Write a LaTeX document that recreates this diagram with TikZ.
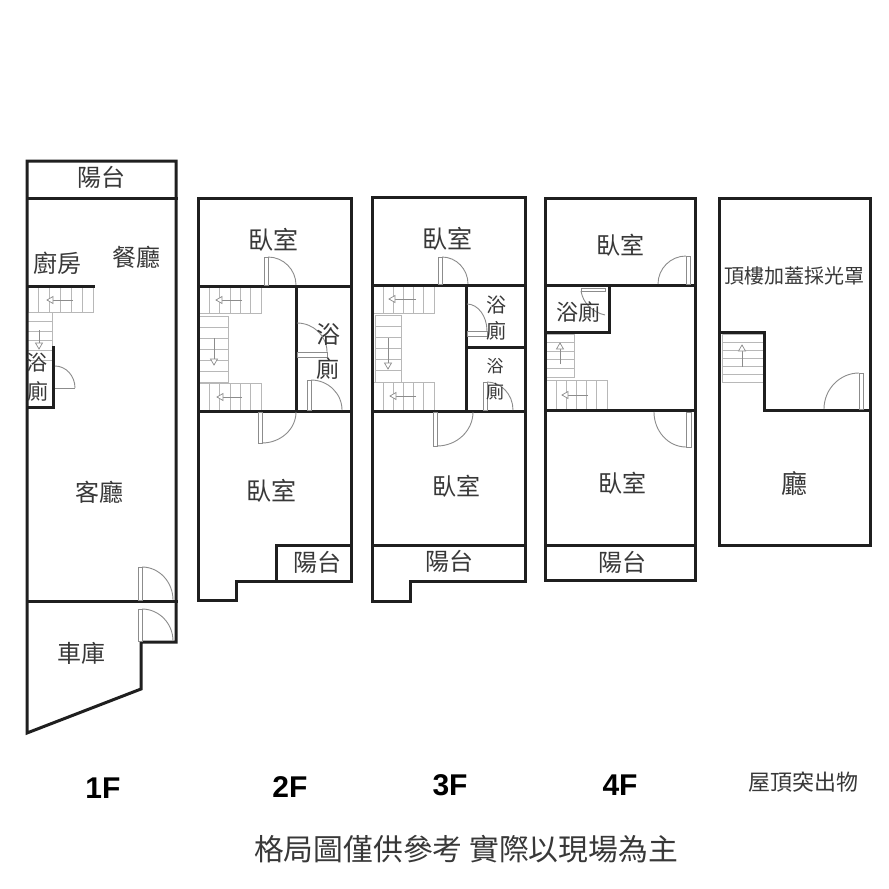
\documentclass[tikz,border=0pt]{standalone}
\usepackage{fontspec}
\setmainfont{Noto Sans CJK TC}
\newfontfamily\latinbold{Liberation Sans}[BoldFont={Liberation Sans Bold}]
\tikzset{
  wall/.style={draw=black!88,line width=3pt,line cap=rect,line join=miter},
  tread/.style={draw=black!28,line width=0.9pt},
  swing/.style={draw=black!45,line width=0.9pt},
  leaf/.style={draw=black!45,line width=0.9pt,fill=white},
  dir/.style={draw=black!45,line width=0.7pt},
  lbl/.style={text=black!78,inner sep=0pt,font=\fontsize{#1}{#1}\selectfont},
  floorlbl/.style={text=black,inner sep=0pt,font=\latinbold\bfseries\fontsize{30}{30}\selectfont}
}
% quarter swing: tangent horizontal at (a,b), vertical at (c,d)
\newcommand{\swingarc}[4]{%
  \pgfmathsetmacro{\cxa}{#1+0.55*(#3-#1)}%
  \pgfmathsetmacro{\cyb}{#4-0.55*(#4-#2)}%
  \draw[swing] (#1,#2) .. controls (\cxa,#2) and (#3,\cyb) .. (#3,#4);}
\newcommand{\hstair}[4]{%
  \draw[tread] (#1,#3) rectangle (#2,#4);
  \pgfmathsetmacro{\stp}{(#2-#1)/6}%
  \foreach \i in {1,...,5}{\draw[tread] ({#1+\i*\stp},#3) -- ({#1+\i*\stp},#4);}}
\newcommand{\vstair}[5]{%
  \draw[tread] (#1,#3) rectangle (#2,#4);
  \pgfmathsetmacro{\stp}{(#4-#3)/#5}%
  \pgfmathtruncatemacro{\nn}{#5-1}%
  \foreach \i in {1,...,\nn}{\draw[tread] (#1,{#3+\i*\stp}) -- (#2,{#3+\i*\stp});}}
\newcommand{\arrL}[3]{% head x, tail x, y
  \draw[dir] (#2,#3) -- (#1,#3);
  \draw[dir,fill=white] (#1,#3) -- (#1+6,#3-3.5) -- (#1+6,#3+3.5) -- cycle;}
\newcommand{\arrV}[4]{% x, head y, tail y, head direction (+1 = points down)
  \draw[dir] (#1,#3) -- (#1,#2);
  \draw[dir,fill=white] (#1,#2) -- (#1-3.5,#2-#4*6) -- (#1+3.5,#2-#4*6) -- cycle;}
\begin{document}
\begin{tikzpicture}[x=1pt,y=-1pt]
\useasboundingbox[fill=white] (0,0) rectangle (889,889);

% ---------- 1F
\vstair{27}{52}{312}{360}{5}
\hstair{28}{93}{287}{312}
\arrL{47}{73}{300}
\arrV{39}{349}{330}{1}
\draw[wall] (176,642) -- (176,161) -- (27,161) -- (27,733) -- (141,689) -- (141,642) -- cycle;
\draw[wall] (27,198) -- (176,198);
\draw[wall] (27,601) -- (176,601);
\draw[wall] (27,286) -- (93,286);
\draw[wall] (53,347) -- (53,407) -- (27,407);
\draw[swing] (55,388) -- (75,388);
\swingarc{55}{366}{75}{388}
\draw[leaf] (138,567) rectangle (142,600);
\swingarc{142}{567}{173}{600}
\draw[leaf] (138,609) rectangle (142,641);
\swingarc{142}{609}{173}{641}

% ---------- 2F
\hstair{199}{261}{287}{313}
\arrL{216}{242}{300}
\vstair{199}{228}{316}{382}{6}
\arrV{214}{365}{338}{1}
\hstair{199}{261}{383}{410}
\arrL{217}{242}{397}
\draw[wall] (236,581) -- (236,600) -- (198,600) -- (198,198) -- (351,198) -- (351,581) -- cycle;
\draw[wall] (198,286) -- (351,286);
\draw[wall] (198,411) -- (351,411);
\draw[wall] (296,286) -- (296,411);
\draw[wall] (276,581) -- (276,545) -- (351,545);
\draw[leaf] (264,257) rectangle (268,285);
\swingarc{268}{257}{296}{285}
\draw[leaf] (258,412) rectangle (262,443);
\swingarc{262}{443}{296}{412}
\draw[leaf] (297,352) rectangle (327,357);
\swingarc{297}{323}{327}{352}
\draw[leaf] (307,380) rectangle (311,410);
\swingarc{311}{380}{342}{410}

% ---------- 3F
\hstair{373}{434}{286}{313}
\arrL{389}{416}{299}
\vstair{375}{401}{315}{382}{6}
\arrV{388}{369}{338}{1}
\hstair{373}{434}{382}{410}
\arrL{390}{416}{396}
\draw[wall] (372,197) -- (525,197) -- (525,581) -- (410,581) -- (410,601) -- (372,601) -- cycle;
\draw[wall] (372,285) -- (525,285);
\draw[wall] (372,411) -- (525,411);
\draw[wall] (466,285) -- (466,411);
\draw[wall] (466,347) -- (525,347);
\draw[wall] (372,545) -- (525,545);
\draw[leaf] (438,257) rectangle (442,284);
\swingarc{442}{257}{468}{284}
\draw[leaf] (433,412) rectangle (437,446);
\swingarc{437}{446}{473}{412}
\draw[leaf] (467,331) rectangle (487,336);
\swingarc{467}{304}{487}{331}
\draw[leaf] (483,382) rectangle (487,410);
\swingarc{487}{382}{513}{410}

% ---------- 4F
\vstair{546}{574}{334}{377}{5}
\arrV{560}{343}{364}{-1}
\hstair{546}{607}{380}{409}
\arrL{562}{588}{395}
\draw[wall] (545,198) rectangle (695,580);
\draw[wall] (545,285) -- (695,285);
\draw[wall] (545,410) -- (695,410);
\draw[wall] (545,545) -- (695,545);
\draw[wall] (609,285) -- (609,332) -- (545,332);
\draw[leaf] (686,256) rectangle (690,284);
\swingarc{686}{256}{658}{284}
\draw[leaf] (686,412) rectangle (691,447);
\swingarc{686}{447}{654}{412}
\draw[leaf] (581,288) rectangle (605,291);
\draw[swing] (581,291) .. controls (583,303) and (592,312) .. (605,315);

% ---------- Roof
\vstair{722}{763}{334}{382}{6}
\arrV{742}{345}{367}{-1}
\draw[wall] (719,198) rectangle (870,545);
\draw[wall] (719,332) -- (764,332) -- (764,410) -- (870,410);
\draw[leaf] (859,373) rectangle (863,409);
\swingarc{859}{373}{824}{409}

% ---------- Labels
\node[lbl=24] (t1) at (101,177) {陽台};
\node[lbl=24] (t2) at (57,263) {廚房};
\node[lbl=24] (t3) at (136,257) {餐廳};
\node[lbl=21] (t4) at (37,363) {浴};
\node[lbl=21] (t5) at (38,391) {廁};
\node[lbl=24] (t6) at (99,492) {客廳};
\node[lbl=24] (t7) at (81,653) {車庫};

\node[lbl=25] (t8) at (273,240) {臥室};
\node[lbl=24] (t9) at (328,335) {浴};
\node[lbl=23] (t10) at (328,369) {廁};
\node[lbl=25] (t11) at (271,491) {臥室};
\node[lbl=24] (t12) at (317,562) {陽台};

\node[lbl=25] (t13) at (447,239) {臥室};
\node[lbl=20] (t14) at (496,305) {浴};
\node[lbl=20] (t15) at (496,331) {廁};
\node[lbl=17] (t16) at (495,366) {浴};
\node[lbl=18] (t17) at (495,392) {廁};
\node[lbl=24] (t18) at (456,486) {臥室};
\node[lbl=24] (t19) at (449,561) {陽台};

\node[lbl=24] (t20) at (620,245) {臥室};
\node[lbl=22] (t21) at (578,312) {浴廁};
\node[lbl=24] (t22) at (622,483) {臥室};
\node[lbl=24] (t23) at (622,562) {陽台};

\node[lbl=20] (t24) at (794,276) {頂樓加蓋採光罩};
\node[lbl=26] (t25) at (794,484) {廳};

\node[floorlbl] (f1) at (103,788) {1F};
\node[floorlbl] (f2) at (290,787) {2F};
\node[floorlbl] (f3) at (450,785) {3F};
\node[floorlbl] (f4) at (620,785) {4F};
\node[lbl=22] (f5) at (803,782) {屋頂突出物};
\node[lbl=29.8] (note) at (466,849) {格局圖僅供參考 實際以現場為主};
\end{tikzpicture}
\end{document}
